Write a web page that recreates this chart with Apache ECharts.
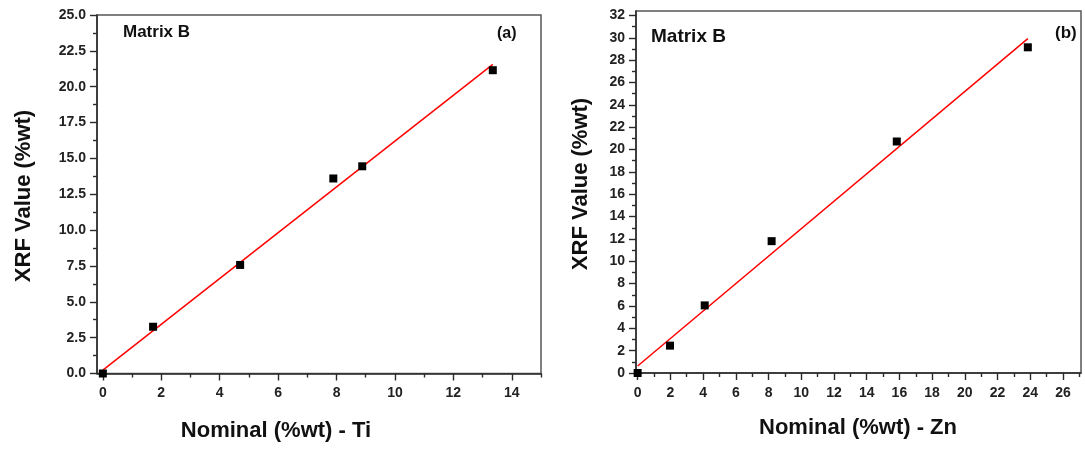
<!DOCTYPE html>
<html>
<head>
<meta charset="utf-8">
<script src="https://cdn.jsdelivr.net/npm/echarts@6/dist/echarts.min.js"></script>
<style>html,body{margin:0;padding:0;background:#fff}#c{width:1085px;height:451px}</style>
</head>
<body>
<div id="c"></div>
<script>
// Panel (a): Ti
const tiPoints = [[0, 0], [1.72, 3.26], [4.7, 7.57], [7.89, 13.6], [8.88, 14.45], [13.35, 21.15]];
const tiFit = [[0, 0.23], [13.35, 21.56]];
const tiXTicks = [0, 2, 4, 6, 8, 10, 12, 14];
const tiXMinor = [1, 3, 5, 7, 9, 11, 13, 15];
const tiYTicks = [0, 2.5, 5, 7.5, 10, 12.5, 15, 17.5, 20, 22.5, 25];
const tiYMinor = [1.25, 3.75, 6.25, 8.75, 11.25, 13.75, 16.25, 18.75, 21.25, 23.75];
// Panel (b): Zn
const znPoints = [[0, 0], [1.98, 2.45], [4.1, 6.05], [8.19, 11.8], [15.84, 20.72], [23.85, 29.15]];
const znFit = [[0, 0.63], [23.85, 29.93]];
const znXTicks = [0, 2, 4, 6, 8, 10, 12, 14, 16, 18, 20, 22, 24, 26];
const znXMinor = [1, 3, 5, 7, 9, 11, 13, 15, 17, 19, 21, 23, 25, 27];
const znYTicks = [0, 2, 4, 6, 8, 10, 12, 14, 16, 18, 20, 22, 24, 26, 28, 30, 32];
const znYMinor = [1, 3, 5, 7, 9, 11, 13, 15, 17, 19, 21, 23, 25, 27, 29, 31];

const FONT = '"Liberation Sans", Arial, sans-serif';
const AX = '#2a2a2a';

function labelAxis(grid, pos, min, max, ticks, fmt, isY) {
  return {
    type: 'value', gridIndex: grid, position: pos, min: min, max: max,
    axisLine: { show: true, onZero: false, lineStyle: { color: AX, width: 1.5 } },
    axisTick: { show: false },
    axisLabel: { show: true, customValues: ticks, margin: isY ? 11 : 13, color: '#222', fontFamily: FONT, fontWeight: 'bold', fontSize: 14, formatter: fmt },
    splitLine: { show: false }
  };
}
function tickAxis(grid, pos, min, max, ticks, len) {
  return {
    type: 'value', gridIndex: grid, position: pos, min: min, max: max,
    axisLine: { show: false, onZero: false },
    axisTick: { show: true, inside: false, length: len, customValues: ticks, lineStyle: { color: AX, width: 1.4 } },
    axisLabel: { show: false },
    splitLine: { show: false }
  };
}

const chart = echarts.init(document.getElementById('c'), null, { renderer: 'canvas' });
chart.setOption({
  animation: false,
  backgroundColor: '#fff',
  grid: [
    { left: 97, top: 15, width: 444, height: 358.5, show: true, borderColor: '#555', borderWidth: 1.5, backgroundColor: 'transparent' },
    { left: 636, top: 11, width: 445, height: 362, show: true, borderColor: '#555', borderWidth: 1.5, backgroundColor: 'transparent' }
  ],
  xAxis: [
    labelAxis(0, 'bottom', -0.2, 15, tiXTicks, v => String(v), false),
    tickAxis(0, 'bottom', -0.2, 15, tiXTicks, 7),
    tickAxis(0, 'bottom', -0.2, 15, tiXMinor, 4),
    labelAxis(1, 'bottom', -0.1, 27.1, znXTicks, v => String(v), false),
    tickAxis(1, 'bottom', -0.1, 27.1, znXTicks, 7),
    tickAxis(1, 'bottom', -0.1, 27.1, znXMinor, 4)
  ],
  yAxis: [
    labelAxis(0, 'left', 0, 25, tiYTicks, v => v.toFixed(1), true),
    tickAxis(0, 'left', 0, 25, tiYTicks, 7),
    tickAxis(0, 'left', 0, 25, tiYMinor, 4),
    labelAxis(1, 'left', 0, 32.4, znYTicks, v => String(v), true),
    tickAxis(1, 'left', 0, 32.4, znYTicks, 7),
    tickAxis(1, 'left', 0, 32.4, znYMinor, 4)
  ],
  series: [
    { type: 'line', xAxisIndex: 0, yAxisIndex: 0, data: tiFit, symbol: 'none', lineStyle: { color: '#f00', width: 1.5 }, z: 2 },
    { type: 'scatter', xAxisIndex: 0, yAxisIndex: 0, data: tiPoints, symbol: 'rect', symbolSize: 8, itemStyle: { color: '#000', opacity: 1 }, z: 3 },
    { type: 'line', xAxisIndex: 3, yAxisIndex: 3, data: znFit, symbol: 'none', lineStyle: { color: '#f00', width: 1.5 }, z: 2 },
    { type: 'scatter', xAxisIndex: 3, yAxisIndex: 3, data: znPoints, symbol: 'rect', symbolSize: 8, itemStyle: { color: '#000', opacity: 1 }, z: 3 }
  ],
  graphic: [
    { type: 'text', left: 123, top: 24, style: { text: 'Matrix B', font: 'bold 17px ' + FONT, fill: '#111' } },
    { type: 'text', left: 497, top: 26, style: { text: '(a)', font: 'bold 16px ' + FONT, fill: '#111' } },
    { type: 'text', left: 651, top: 27, style: { text: 'Matrix B', font: 'bold 19px ' + FONT, fill: '#111' } },
    { type: 'text', left: 1055, top: 25, style: { text: '(b)', font: 'bold 17px ' + FONT, fill: '#111' } },
    { type: 'text', x: 24, y: 196, rotation: Math.PI / 2, style: { text: 'XRF Value (%wt)', font: 'bold 22px ' + FONT, fill: '#111', align: 'center', verticalAlign: 'middle' } },
    { type: 'text', x: 276, y: 431, style: { text: 'Nominal (%wt) - Ti', font: 'bold 22px ' + FONT, fill: '#111', align: 'center', verticalAlign: 'middle' } },
    { type: 'text', x: 581, y: 184, rotation: Math.PI / 2, style: { text: 'XRF Value (%wt)', font: 'bold 22px ' + FONT, fill: '#111', align: 'center', verticalAlign: 'middle' } },
    { type: 'text', x: 858, y: 428, style: { text: 'Nominal (%wt) - Zn', font: 'bold 22px ' + FONT, fill: '#111', align: 'center', verticalAlign: 'middle' } }
  ]
});
</script>
</body>
</html>
